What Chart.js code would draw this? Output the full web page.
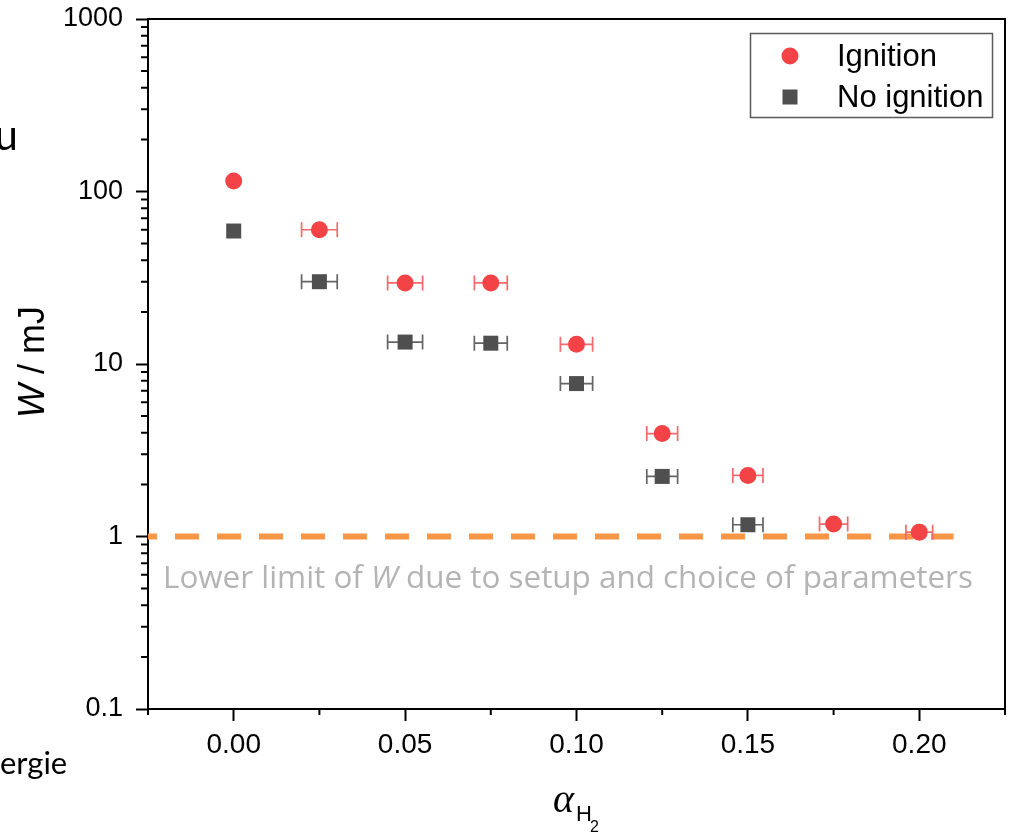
<!DOCTYPE html>
<html>
<head>
<meta charset="utf-8">
<script src="https://cdn.jsdelivr.net/npm/chart.js@4.4.1/dist/chart.umd.min.js"></script>
<style>
  html, body { margin: 0; padding: 0; background: #fff; overflow: hidden; }
  canvas { display: block; }
</style>
</head>
<body>
<canvas id="chart" width="1009" height="832"></canvas>
<script>
// Hydrogen fraction (alpha_H2) and ignition energy W in mJ
const alphaIgnition = [0.000, 0.025, 0.050, 0.075, 0.100, 0.125, 0.150, 0.175, 0.200];
const wIgnition     = [115, 60, 29.5, 29.5, 13.0, 3.95, 2.26, 1.18, 1.06];
const alphaErrIgnition = [0, 0.0052, 0.0051, 0.0048, 0.0047, 0.0045, 0.0044, 0.0041, 0.0039];

const alphaNoIgnition = [0.000, 0.025, 0.050, 0.075, 0.100, 0.125, 0.150];
const wNoIgnition     = [59, 30, 13.4, 13.2, 7.7, 2.23, 1.17];
const alphaErrNoIgnition = [0, 0.0052, 0.0051, 0.0048, 0.0047, 0.0045, 0.0044];

// Lower limit of W set by the setup
const limitAlpha = [-0.025, 0.21];
const limitW     = [1, 1];

const seriesNames = ['Ignition', 'No ignition'];
const limitNote = ['Lower limit of ', 'W', ' due to setup and choice of parameters'];

const xTickValues = [0.00, 0.05, 0.10, 0.15, 0.20];
const xMinorTickValues = [-0.025, 0.025, 0.075, 0.125, 0.175, 0.225];
const yTickValues = [0.1, 1, 10, 100, 1000];
const yMinorMultipliers = [2, 3, 4, 5, 6, 7, 8, 9];

const RED = '#f44346';
const RED_BAR = '#f46a6c';
const GREY = '#4f4f4f';
const GREY_BAR = '#646464';
const ORANGE = '#f79646';

const toPoints = (xs, ys) => xs.map((x, i) => ({ x: x, y: ys[i] }));

// keep the plot area fixed: no extra room for overhanging tick labels
const noLabelPadding = s => { s.paddingTop = 0; s.paddingBottom = 0; s.paddingLeft = 0; s.paddingRight = 0; };

// Horizontal error bars, painted right after the dashed limit line so markers sit on top
const errorBarPlugin = {
  id: 'errorBars',
  afterDatasetDraw(chart, args) {
    if (args.index !== 2) return;
    const xs = chart.scales.x, ys = chart.scales.y;
    const ctx = chart.ctx;
    const sets = [
      { a: alphaNoIgnition, w: wNoIgnition, e: alphaErrNoIgnition, c: GREY_BAR },
      { a: alphaIgnition, w: wIgnition, e: alphaErrIgnition, c: RED_BAR }
    ];
    ctx.save();
    ctx.lineWidth = 1.7;
    sets.forEach(s => {
      ctx.strokeStyle = s.c;
      s.a.forEach((a, i) => {
        if (!s.e[i]) return;
        const x1 = xs.getPixelForValue(a - s.e[i]);
        const x2 = xs.getPixelForValue(a + s.e[i]);
        const y = ys.getPixelForValue(s.w[i]);
        ctx.beginPath();
        ctx.moveTo(x1, y); ctx.lineTo(x2, y);
        ctx.moveTo(x1, y - 7.5); ctx.lineTo(x1, y + 7.5);
        ctx.moveTo(x2, y - 7.5); ctx.lineTo(x2, y + 7.5);
        ctx.stroke();
      });
    });
    ctx.restore();
  }
};

// Frame, minor ticks, axis titles, legend and text notes
const decorPlugin = {
  id: 'decor',
  afterDraw(chart) {
    const ctx = chart.ctx;
    const area = chart.chartArea;
    const xs = chart.scales.x, ys = chart.scales.y;
    ctx.save();

    // top and right frame lines
    ctx.strokeStyle = '#000';
    ctx.lineWidth = 2;
    ctx.beginPath();
    ctx.moveTo(area.left - 1, area.top);
    ctx.lineTo(area.right, area.top);
    ctx.lineTo(area.right, area.bottom + 1);
    ctx.stroke();

    // minor ticks
    ctx.beginPath();
    xMinorTickValues.forEach(v => {
      const px = xs.getPixelForValue(v);
      ctx.moveTo(px, area.bottom);
      ctx.lineTo(px, area.bottom + 6);
    });
    yTickValues.slice(0, -1).forEach(d => {
      yMinorMultipliers.forEach(m => {
        const py = ys.getPixelForValue(m * d);
        ctx.moveTo(area.left, py);
        ctx.lineTo(area.left - 7, py);
      });
    });
    ctx.stroke();

    // y axis title: W / mJ
    ctx.fillStyle = '#000';
    ctx.save();
    ctx.translate(34, 362);
    ctx.rotate(-Math.PI / 2);
    ctx.textBaseline = 'middle';
    ctx.textAlign = 'left';
    const fItal = 'italic 36px "Liberation Sans", Arial, sans-serif';
    const fNorm = '36px "Liberation Sans", Arial, sans-serif';
    ctx.font = fItal; const wW = ctx.measureText('W').width;
    ctx.font = fNorm; const wRest = ctx.measureText(' / mJ').width;
    const sx = -(wW + wRest) / 2;
    ctx.font = fItal; ctx.fillText('W', sx, 0);
    ctx.font = fNorm; ctx.fillText(' / mJ', sx + wW, 0);
    ctx.restore();

    // x axis title: alpha_H2
    ctx.textBaseline = 'alphabetic';
    ctx.textAlign = 'left';
    ctx.font = 'italic 40px "Liberation Serif", "DejaVu Serif", serif';
    ctx.fillText('\u03B1', 553, 812);
    ctx.font = '22px "Liberation Sans", Arial, sans-serif';
    ctx.fillText('H', 576, 821);
    ctx.font = '16px "Liberation Sans", Arial, sans-serif';
    ctx.fillText('2', 590, 832);

    // legend
    ctx.strokeStyle = '#5a5a5a';
    ctx.lineWidth = 1.5;
    ctx.strokeRect(750.5, 33.5, 242, 84);
    const ds = chart.data.datasets;
    const rows = [56, 97];
    ctx.font = '31px "Liberation Sans", Arial, sans-serif';
    ctx.textBaseline = 'middle';
    [0, 1].forEach(i => {
      const d = ds[i];
      ctx.fillStyle = d.backgroundColor;
      if (d.pointStyle === 'rect') {
        ctx.fillRect(790 - 7.5, rows[i] - 7.5, 15, 15);
      } else {
        ctx.beginPath();
        ctx.arc(790, rows[i], 8.5, 0, Math.PI * 2);
        ctx.fill();
      }
      ctx.fillStyle = '#000';
      ctx.fillText(seriesNames[i], 837, rows[i] + 1);
    });

    // note under the limit line, sized to span 163..973
    ctx.textBaseline = 'alphabetic';
    ctx.fillStyle = '#b4b4b4';
    const fam = '"Open Sans", Lato, sans-serif';
    let total = 0;
    limitNote.forEach((t, i) => {
      ctx.font = (i === 1 ? 'italic ' : '') + '100px ' + fam;
      total += ctx.measureText(t).width;
    });
    const noteSize = 100 * 810 / total;
    let nx = 163;
    limitNote.forEach((t, i) => {
      ctx.font = (i === 1 ? 'italic ' : '') + noteSize.toFixed(2) + 'px ' + fam;
      ctx.fillText(t, nx, 588);
      nx += ctx.measureText(t).width;
    });

    // text fragments at the left edge
    ctx.fillStyle = '#000';
    ctx.font = '42px Lato, "Open Sans", sans-serif';
    ctx.textAlign = 'right';
    ctx.fillText('u', 18, 150);
    ctx.textAlign = 'left';
    ctx.font = '31px Lato, "Open Sans", sans-serif';
    ctx.fillText('ergie', 0, 774);

    ctx.restore();
  }
};

new Chart(document.getElementById('chart'), {
  type: 'scatter',
  data: {
    datasets: [
      {
        label: seriesNames[0],
        data: toPoints(alphaIgnition, wIgnition),
        backgroundColor: RED,
        borderColor: RED,
        pointStyle: 'circle',
        pointRadius: 8.5,
        pointBorderWidth: 0,
        order: 1
      },
      {
        label: seriesNames[1],
        data: toPoints(alphaNoIgnition, wNoIgnition),
        backgroundColor: GREY,
        borderColor: GREY,
        pointStyle: 'rect',
        pointRadius: 10.6,
        pointBorderWidth: 0,
        order: 2
      },
      {
        type: 'line',
        label: 'limit',
        data: toPoints(limitAlpha, limitW),
        borderColor: ORANGE,
        borderWidth: 6,
        borderDash: [24, 18],
        borderDashOffset: 15,
        borderCapStyle: 'butt',
        pointRadius: 0,
        fill: false,
        showLine: true,
        order: 3
      }
    ]
  },
  options: {
    responsive: false,
    devicePixelRatio: 1,
    animation: false,
    events: [],
    layout: { autoPadding: false, padding: { top: 19, right: 4, left: 0, bottom: 0 } },
    plugins: {
      legend: { display: false },
      tooltip: { enabled: false },
      title: { display: false }
    },
    scales: {
      x: {
        type: 'linear',
        min: -0.025,
        max: 0.225,
        afterBuildTicks: s => { s.ticks = xTickValues.map(v => ({ value: v })); },
        afterFit: s => { s.height = 123; noLabelPadding(s); },
        grid: { drawOnChartArea: false, tickLength: 12, tickWidth: 2, tickColor: '#000' },
        border: { color: '#000', width: 2 },
        ticks: {
          autoSkip: false,
          maxRotation: 0,
          padding: 7,
          color: '#000',
          font: { family: '"Liberation Sans", Arial, sans-serif', size: 28 },
          callback: v => Number(v).toFixed(2)
        }
      },
      y: {
        type: 'logarithmic',
        min: 0.1,
        max: 1000,
        afterBuildTicks: s => { s.ticks = yTickValues.map(v => ({ value: v })); },
        afterFit: s => { s.width = 148; noLabelPadding(s); },
        grid: { drawOnChartArea: false, tickLength: 12, tickWidth: 2, tickColor: '#000' },
        border: { color: '#000', width: 2 },
        ticks: {
          autoSkip: false,
          padding: 13,
          color: '#000',
          font: { family: '"Liberation Sans", Arial, sans-serif', size: 27 },
          callback: v => String(v)
        }
      }
    }
  },
  plugins: [errorBarPlugin, decorPlugin]
});
</script>
</body>
</html>
